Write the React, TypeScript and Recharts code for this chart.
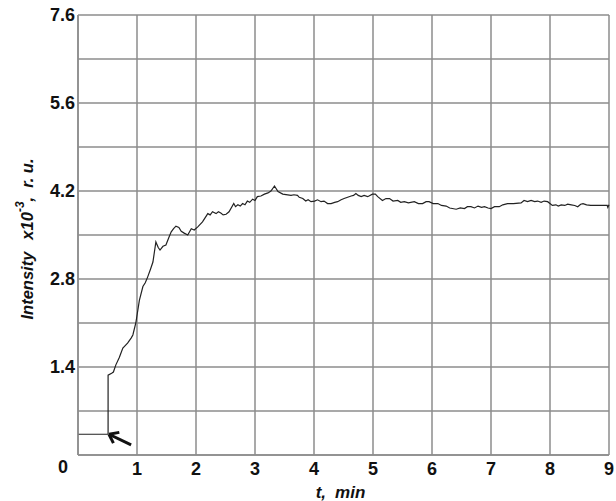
import {
  LineChart,
  Line,
  XAxis,
  YAxis,
  CartesianGrid,
  ReferenceLine,
  Label,
} from "recharts";

// time, min
const times = [
  0, 0.51, 0.51, 0.57, 0.6, 0.64, 0.7, 0.76, 0.8, 0.84, 0.9, 0.93, 0.98, 1.04,
  1.1, 1.14, 1.18, 1.23, 1.27, 1.32, 1.36, 1.39, 1.44, 1.49, 1.54, 1.58, 1.62,
  1.66, 1.71, 1.75, 1.8, 1.86, 1.92, 1.97, 2.03, 2.11, 2.2, 2.24, 2.28, 2.34,
  2.38, 2.42, 2.46, 2.51, 2.56, 2.64, 2.67, 2.71, 2.75, 2.79, 2.83, 2.87, 2.91,
  2.96, 3.0, 3.04, 3.1, 3.16, 3.22, 3.27, 3.33, 3.39, 3.47, 3.61, 3.66, 3.72,
  3.75, 3.81, 3.86, 3.9, 3.95, 4.01, 4.06, 4.12, 4.17, 4.23, 4.29, 4.35, 4.4,
  4.46, 4.51, 4.57, 4.63, 4.67, 4.71, 4.75, 4.8, 4.85, 4.91, 4.99, 5.04, 5.08,
  5.16, 5.22, 5.28, 5.34, 5.42, 5.47, 5.53, 5.6, 5.7, 5.77, 5.84, 5.9, 5.95,
  6.02, 6.1, 6.16, 6.24, 6.3, 6.41, 6.48, 6.55, 6.6, 6.66, 6.72, 6.78, 6.84,
  6.89, 6.95, 7.0, 7.06, 7.14, 7.2, 7.28, 7.38, 7.51, 7.56, 7.62, 7.68, 7.74,
  7.79, 7.85, 7.9, 7.96, 8.04, 8.1, 8.14, 8.19, 8.25, 8.3, 8.36, 8.42, 8.47,
  8.52, 8.56, 8.62, 8.69, 8.8, 8.9, 8.97, 8.98, 9.0,
];
// intensity x10^-3, r.u.
const intensity = [
  0.33, 0.33, 1.27, 1.3, 1.32, 1.43, 1.55, 1.7, 1.74, 1.78, 1.86, 1.91, 2.1,
  2.46, 2.68, 2.74, 2.83, 2.96, 3.07, 3.39, 3.3, 3.26, 3.32, 3.34, 3.46, 3.55,
  3.6, 3.64, 3.62, 3.56, 3.53, 3.5, 3.6, 3.58, 3.63, 3.71, 3.84, 3.82, 3.87,
  3.84, 3.87, 3.85, 3.82, 3.83, 3.87, 4.0, 3.95, 3.98, 3.96, 4.0, 3.98, 4.04,
  4.02, 4.07, 4.05, 4.11, 4.12, 4.15, 4.17, 4.2, 4.28, 4.19, 4.15, 4.13, 4.14,
  4.13, 4.1, 4.08, 4.04, 4.06, 4.03, 4.04, 4.06, 4.03, 4.04, 4.0, 4.0, 4.02,
  4.03, 4.06, 4.08, 4.1, 4.12, 4.13, 4.16, 4.13, 4.11, 4.13, 4.11, 4.15, 4.15,
  4.11, 4.05, 4.08, 4.08, 4.04, 4.05, 4.02, 4.03, 4.01, 4.03, 4.0, 4.0, 4.03,
  4.03, 4.0, 4.0, 3.97, 3.96, 3.93, 3.91, 3.93, 3.92, 3.95, 3.95, 3.93, 3.96,
  3.94, 3.95, 3.93, 3.92, 3.95, 3.95, 3.98, 4.0, 4.0, 4.01, 4.05, 4.03, 4.05,
  4.03, 4.04, 4.02, 4.04, 4.03, 3.97, 3.98, 3.96, 3.98, 3.97, 3.99, 3.98, 3.97,
  3.95, 3.99, 4.0, 3.98, 3.97, 3.97, 3.97, 3.97, 3.94, 3.98,
];

const xTicks = [0, 1, 2, 3, 4, 5, 6, 7, 8, 9];
const xTickLabels = ["", "1", "2", "3", "4", "5", "6", "7", "8", "9"];
const yTicks = [0, 0.7, 1.4, 2.1, 2.8, 3.5, 4.2, 4.9, 5.6, 6.3, 7.0];
const yTickLabels = ["0", "", "1.4", "", "2.8", "", "4.2", "", "5.6", "", "7.6"];

// start marker arrow (t, intensity)
const arrowTail = { t: 0.9, v: 0.16 };
const arrowTip = { t: 0.525, v: 0.33 };
const arrowWingA = { t: 0.7, v: 0.36 };
const arrowWingB = { t: 0.6, v: 0.19 };

const data = times.map((t, i) => ({ t, v: intensity[i] }));

const GRID = "#8c8c8c";
const FONT = "Arial, 'Liberation Sans', sans-serif";

const YTick = (props: any) => {
  const { x, y, payload, index } = props;
  const label = yTickLabels[index] ?? "";
  if (!label) return null;
  const isZero = payload.value === 0;
  return (
    <text
      x={isZero ? x - 7 : x}
      y={isZero ? y + 12 : y}
      textAnchor="end"
      dominantBaseline="central"
      fontFamily={FONT}
      fontWeight="bold"
      fontSize={18}
      fill="#111"
    >
      {label}
    </text>
  );
};

const YTitle = (props: any) => {
  const vb = props.viewBox;
  const cx = 27;
  const cy = vb.y + vb.height / 2 + 4;
  return (
    <text
      x={cx}
      y={cy}
      transform={`rotate(-90, ${cx}, ${cy})`}
      textAnchor="middle"
      dominantBaseline="central"
      fontFamily={FONT}
      fontWeight="bold"
      fontStyle="italic"
      fontSize={16.5}
      fill="#111"
    >
      <tspan>Intensity</tspan>
      <tspan dx={12}>x10</tspan>
      <tspan dy={-7} fontSize={12}>
        -3
      </tspan>
      <tspan dy={7}>,</tspan>
      <tspan dx={9}>r. u.</tspan>
    </text>
  );
};

const XTitle = (props: any) => {
  const vb = props.viewBox;
  const cx = vb.x + vb.width / 2 - 3;
  const cy = 492;
  return (
    <text
      x={cx}
      y={cy}
      textAnchor="middle"
      dominantBaseline="central"
      fontFamily={FONT}
      fontWeight="bold"
      fontStyle="italic"
      fontSize={17}
      fill="#111"
    >
      <tspan>t,</tspan>
      <tspan dx={9}>min</tspan>
    </text>
  );
};

export default function App() {
  return (
    <div style={{ position: "absolute", left: 0, top: 0, background: "#fff" }}>
      <LineChart
        width={616}
        height={501}
        data={data}
        margin={{ top: 15, right: 7, bottom: 0, left: 0 }}
      >
        <CartesianGrid stroke={GRID} strokeWidth={1.5} />
        <XAxis
          dataKey="t"
          type="number"
          domain={[0, 9]}
          ticks={xTicks}
          tickFormatter={(v: number) => xTickLabels[xTicks.indexOf(v)] ?? ""}
          tickLine={false}
          tickSize={0}
          tickMargin={7}
          height={46}
          axisLine={{ stroke: GRID, strokeWidth: 1.5 }}
          tick={{
            fontFamily: FONT,
            fontWeight: "bold",
            fontSize: 18,
            fill: "#111",
          }}
        >
          <Label content={<XTitle />} />
        </XAxis>
        <YAxis
          type="number"
          domain={[0, 7]}
          ticks={yTicks}
          width={78}
          tickLine={false}
          tickSize={0}
          tickMargin={3}
          interval={0}
          axisLine={{ stroke: GRID, strokeWidth: 1.5 }}
          tick={<YTick />}
        >
          <Label content={<YTitle />} />
        </YAxis>
        <ReferenceLine
          segment={[
            { x: arrowTail.t, y: arrowTail.v },
            { x: arrowTip.t, y: arrowTip.v },
          ]}
          stroke="#111"
          strokeWidth={3}
        />
        <ReferenceLine
          segment={[
            { x: arrowTip.t, y: arrowTip.v },
            { x: arrowWingA.t, y: arrowWingA.v },
          ]}
          stroke="#111"
          strokeWidth={3}
        />
        <ReferenceLine
          segment={[
            { x: arrowTip.t, y: arrowTip.v },
            { x: arrowWingB.t, y: arrowWingB.v },
          ]}
          stroke="#111"
          strokeWidth={3}
        />
        <Line
          type="linear"
          dataKey="v"
          stroke="#222"
          strokeWidth={1.2}
          dot={false}
          isAnimationActive={false}
        />
      </LineChart>
    </div>
  );
}
